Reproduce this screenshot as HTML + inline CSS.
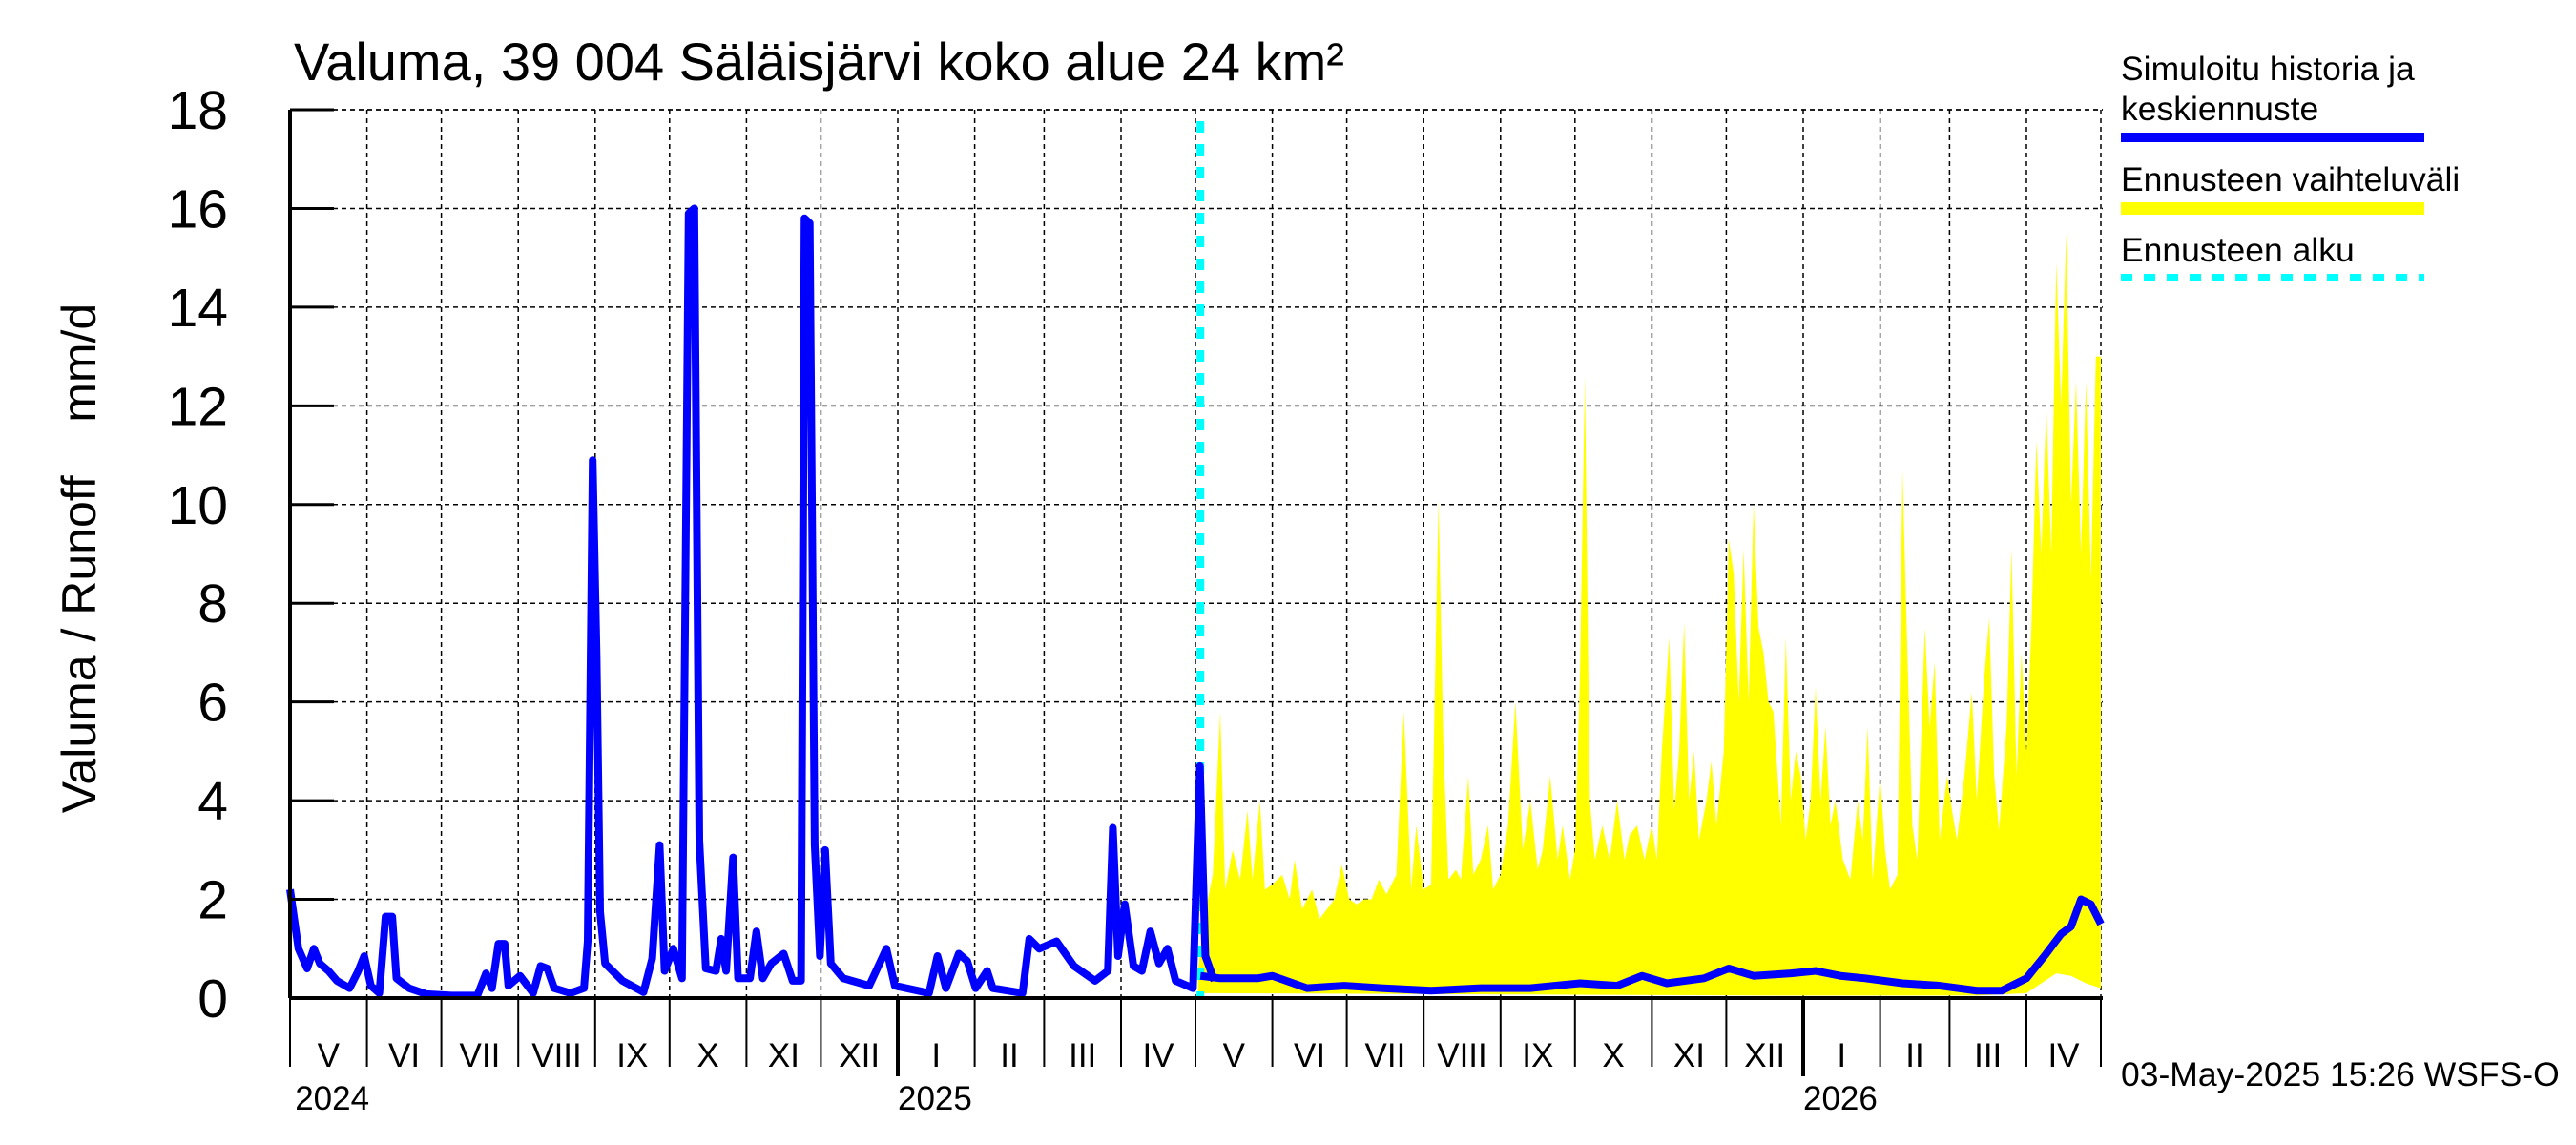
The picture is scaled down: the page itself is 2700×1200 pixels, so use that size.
<!DOCTYPE html>
<html><head><meta charset="utf-8">
<style>
body{margin:0;background:#fff;}
svg{display:block;font-family:"Liberation Sans",sans-serif;}
</style></head>
<body>
<svg id="chart" width="2700" height="1200" viewBox="0 0 2700 1200" xmlns="http://www.w3.org/2000/svg">
<rect width="2700" height="1200" fill="#fff"/>
<text x="308" y="84" font-size="56">Valuma, 39 004 Säläisjärvi koko alue 24 km²</text>
<text transform="translate(100,585) rotate(-90)" text-anchor="middle" font-size="50" xml:space="preserve">Valuma / Runoff    mm/d</text>
<g id="grid"></g>
<g id="band"></g>
<g id="lines"></g>
<g id="axes"></g>
<g>
<text x="2223" y="84" font-size="35.5">Simuloitu historia ja</text>
<text x="2223" y="126" font-size="35.5">keskiennuste</text>
<rect x="2223" y="139" width="318" height="10" fill="#0000ff"/>
<text x="2223" y="200" font-size="35.5">Ennusteen vaihteluväli</text>
<rect x="2223" y="212" width="318" height="13" fill="#ffff00"/>
<text x="2223" y="274" font-size="35.5">Ennusteen alku</text>
<line x1="2223" y1="291" x2="2541" y2="291" stroke="#00ffff" stroke-width="8" stroke-dasharray="12,12"/>
</g>
<text x="2223" y="1138" font-size="35.5">03-May-2025 15:26 WSFS-O</text>
</svg>
<script>
// ---- data ----
const yTicks = [0,2,4,6,8,10,12,14,16,18];
const monthLabels = ["V","VI","VII","VIII","IX","X","XI","XII","I","II","III","IV","V","VI","VII","VIII","IX","X","XI","XII","I","II","III","IV"];
const monthStartDays = [0,31,61,92,123,153,184,214,245,276,304,335,365,396,426,457,488,518,549,579,610,641,669,700,730];
const yearLabels = ["2024","2025","2026"];
const yearLabelDays = [2,245,610];
const forecastStartDay = 367;
const histDays = [0,3.4,6.9,9.6,12,15.5,18.9,24,27.5,29.9,32.6,36,38.5,41.2,42.9,48,55,65,75.5,79,81.4,84,86.5,88,92.7,98,101,103.7,106.5,113,118.5,120,122,123.6,125,127,134,142.5,146,149,151,154.5,158,160.7,163,165,167.6,171.7,173.8,175.8,178.6,180.6,185.4,188,190.6,194,199,202.6,206,207.4,209.5,211.5,213.6,215.7,218,223,233.5,240.4,243.8,257.6,261,264.4,269.6,273,276.4,281,283.3,295.3,298,302,309,316,324.5,329.7,331.7,333.8,336.5,340,343.4,346.8,350.3,353.7,357,364,366.8,369,372.6];
const histValues = [2.2,1.0,0.6,1.0,0.7,0.55,0.35,0.2,0.55,0.85,0.25,0.1,1.65,1.65,0.4,0.2,0.08,0.05,0.05,0.5,0.2,1.1,1.1,0.25,0.45,0.1,0.65,0.6,0.2,0.1,0.2,1.15,10.9,6.9,1.75,0.7,0.35,0.12,0.8,3.1,0.55,1.0,0.4,15.9,16.0,3.2,0.6,0.55,1.2,0.55,2.85,0.4,0.4,1.35,0.4,0.7,0.9,0.35,0.35,15.8,15.7,3.1,0.85,3.0,0.7,0.4,0.25,1.0,0.25,0.1,0.85,0.2,0.9,0.75,0.2,0.55,0.2,0.1,1.2,1.0,1.15,0.65,0.35,0.55,3.45,0.85,1.9,0.65,0.55,1.35,0.7,1.0,0.35,0.2,4.7,0.85,0.35];
const medDays = [367,375,390,396,410,425,440,460,480,500,520,535,545,555,570,580,590,605,615,625,635,650,665,680,690,700,708,714,718,722,726,730];
const medValues = [0.45,0.4,0.4,0.45,0.2,0.25,0.2,0.15,0.2,0.2,0.3,0.25,0.45,0.3,0.4,0.6,0.45,0.5,0.55,0.45,0.4,0.3,0.25,0.15,0.15,0.4,0.9,1.3,1.45,2.0,1.9,1.5];
const upDays = [366,368,372,375,377,380,383,386,388,391,393,396,400,403,405,408,412,415,418,421,424,427,430,433,436,439,442,446,449,452,454,457,460,463,465,467,470,472,475,477,480,483,485,488,491,494,497,500,503,505,508,511,513,516,518,520,522,524,526,529,532,535,538,540,543,546,549,551,553,556,558,560,562,564,566,568,571,573,575,578,580,582,584,586,588,590,592,594,596,598,601,603,605,607,609,611,613,615,617,619,621,623,626,629,632,634,636,638,641,643,645,648,650,652,654,656,659,661,663,665,668,670,672,675,678,680,683,685,687,689,692,694,696,698,700,702,704,706,708,710,712,714,716,718,720,722,724,726,728,730];
const upValues = [0.5,1.5,2.5,5.8,2.2,3,2.4,3.8,2.4,4.0,2.2,2.3,2.5,2.0,2.8,1.8,2.2,1.6,1.8,2.0,2.7,2.0,1.9,2.0,2.0,2.4,2.1,2.5,5.8,2.2,3.5,2.2,2.3,10.1,5,2.4,2.6,2.4,4.5,2.5,2.8,3.5,2.2,2.5,3.5,6,3.0,4.0,2.6,3.0,4.5,2.8,3.5,2.4,3.0,6.5,12.6,4.0,2.8,3.5,2.8,4.0,2.8,3.3,3.5,2.8,3.5,2.8,5.0,7.3,3.8,5.0,7.6,4.0,5.0,3.2,4.0,4.8,3.5,5.0,9.3,8.6,6.0,9.1,6.0,10.0,7.5,7.0,6.0,5.8,3.5,7.3,4.0,5.0,4.5,3.2,4.0,6.3,4.0,5.5,3.5,4.0,2.8,2.4,4.0,3.2,5.5,2.4,4.5,3.0,2.2,2.5,10.7,7.0,3.5,2.8,7.5,5.5,6.8,3.2,4.5,3.8,3.2,4.5,6.2,4.0,6.5,7.7,4.5,3.4,5.5,9.1,4.5,7.0,5.0,7.5,11.3,9.0,12.0,9.0,14.9,12.0,15.5,10.0,12.5,9.0,12.5,8.5,13.0,13.0];
const lowDays = [366,600,680,700,706,712,718,724,730];
const lowValues = [0.1,0.05,0.05,0.1,0.3,0.5,0.45,0.3,0.2];

// ---- axes ----
const X0=304, X1=2202, DAYS=730, Y0=1046, YTOP=115, YMAX=18;
const xs = d => X0 + d*(X1-X0)/DAYS;
const ys = v => Y0 - v*(Y0-YTOP)/YMAX;
const NS="http://www.w3.org/2000/svg";
function mk(parent, tag, attrs){const e=document.createElementNS(NS,tag);for(const k in attrs)e.setAttribute(k,attrs[k]);parent.appendChild(e);return e;}
const grid=document.getElementById('grid'), band=document.getElementById('band'), lines=document.getElementById('lines'), axes=document.getElementById('axes');

yTicks.forEach((t,i)=>{
  const g=mk(grid,'line',{x1:X0,x2:X1+2,y1:ys(t),y2:ys(t),stroke:'#000','stroke-width':1.5,'stroke-dasharray':'5,4'});
  
  
  const tk=mk(axes,'line',{x1:X0,x2:X0+46,y1:ys(t),y2:ys(t),stroke:'#000','stroke-width':3});
  
  
  const lb=mk(axes,'text',{x:239,y:ys(t)+20,'text-anchor':'end','font-size':57});
  lb.textContent=t;
  
  
});
monthStartDays.forEach((d,i)=>{
  const x=xs(d);
  if(i>0){
    const g=mk(grid,'line',{x1:x,x2:x,y1:YTOP,y2:Y0,stroke:'#000','stroke-width':1.5,'stroke-dasharray':'5,4'});
    
    
  }
  const isYear = (d===245||d===610);
  const tk=mk(axes,'line',{x1:x,x2:x,y1:Y0,y2:isYear?1128:1118,stroke:'#000','stroke-width':isYear?4:2});
  
  
  if(i<monthLabels.length){
    const lb=mk(axes,'text',{x:xs((d+monthStartDays[i+1])/2),y:1118,'text-anchor':'middle','font-size':35});
    lb.textContent=monthLabels[i];
    
    
  }
});
yearLabels.forEach((y,i)=>{
  const lb=mk(axes,'text',{x:xs(yearLabelDays[i]),y:1163,'font-size':35});
  lb.textContent=y;
  
  
});
const tb=mk(grid,'line',{x1:X0,x2:X1+2,y1:YTOP,y2:YTOP,stroke:'#000','stroke-width':1.5,'stroke-dasharray':'5,4'});



// band
let pts=upDays.map((d,i)=>xs(d)+','+ys(upValues[i]));
for(let i=lowDays.length-1;i>=0;i--) pts.push(xs(lowDays[i])+','+ys(lowValues[i]));
const poly=mk(band,'polygon',{points:pts.join(' '),fill:'#ffff00'});



const ax=mk(axes,'line',{x1:X0,x2:X1+2,y1:Y0,y2:Y0,stroke:'#000','stroke-width':4});


const ay=mk(axes,'line',{x1:X0,x2:X0,y1:YTOP,y2:Y0,stroke:'#000','stroke-width':4});



const fs=mk(lines,'line',{x1:xs(forecastStartDay),x2:xs(forecastStartDay),y1:127,y2:Y0,stroke:'#00ffff','stroke-width':8,'stroke-dasharray':'12,12'});



const hp=mk(lines,'polyline',{points:histDays.map((d,i)=>xs(d)+','+ys(histValues[i])).join(' '),fill:'none',stroke:'#0000ff','stroke-width':8,'stroke-linejoin':'round'});


const mp=mk(lines,'polyline',{points:medDays.map((d,i)=>xs(d)+','+ys(medValues[i])).join(' '),fill:'none',stroke:'#0000ff','stroke-width':8,'stroke-linejoin':'round'});


</script>
</body></html>
